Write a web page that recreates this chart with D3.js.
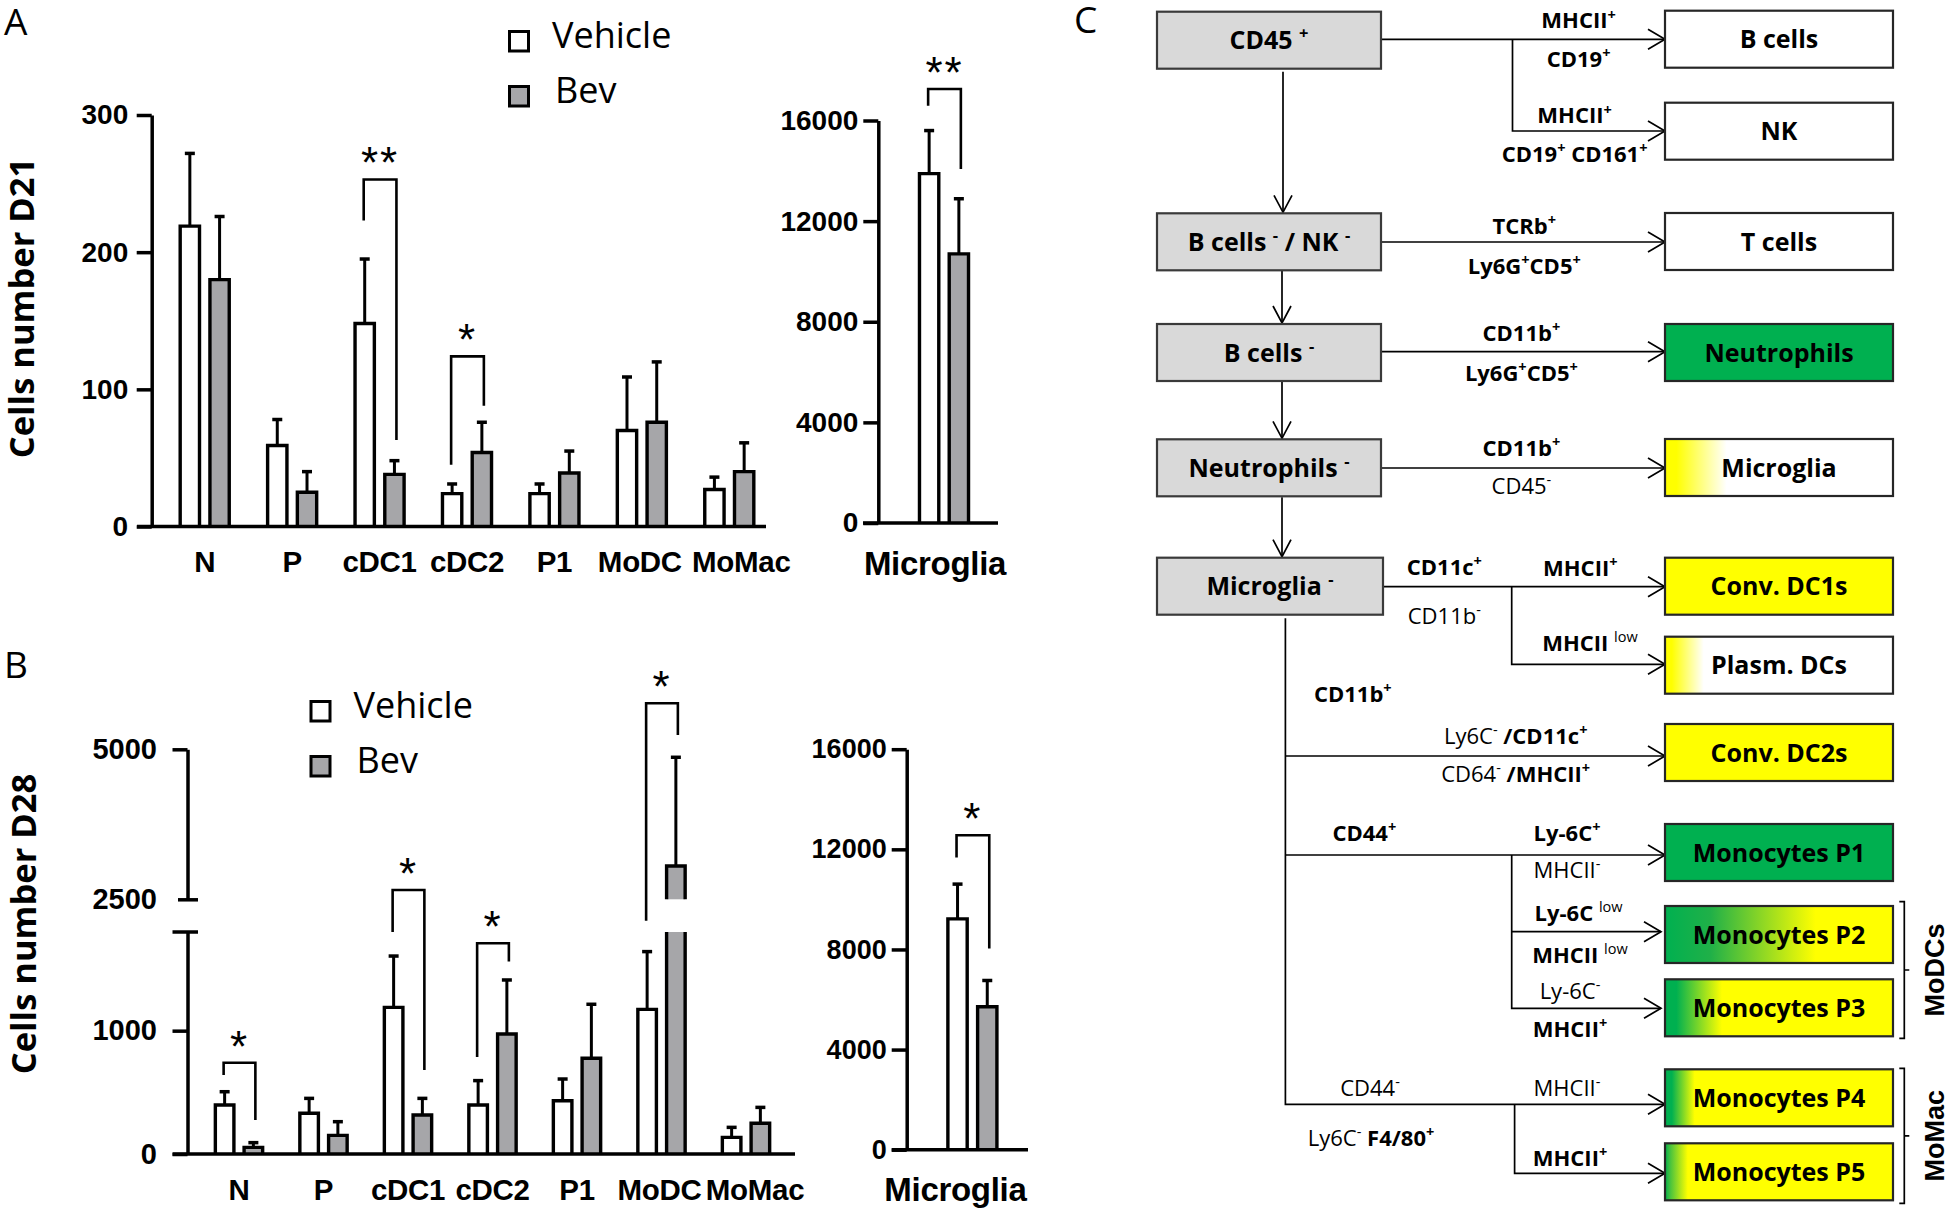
<!DOCTYPE html>
<html><head><meta charset="utf-8">
<script src="https://cdn.jsdelivr.net/npm/d3@7"></script>
<style>body{margin:0;background:#fff}svg{display:block}</style>
</head><body>
<svg id="chart" width="1946" height="1209"></svg>
<script>
// ================= DATA =================
const categories = ["N","P","cDC1","cDC2","P1","MoDC","MoMac"];
const treatments = ["Vehicle","Bev"];
const microgliaCategory = ["Microglia"];

const d21VehicleMean = [219, 59, 148, 24, 24, 70, 27];
const d21VehicleSem  = [53, 19, 47, 7, 7, 39, 9];
const d21BevMean     = [180, 25, 38, 54, 39, 76, 40];
const d21BevSem      = [46, 15, 10, 22, 16, 44, 21];
const d21MicrogliaVehicle = [13890], d21MicrogliaVehicleSem = [1710];
const d21MicrogliaBev     = [10700], d21MicrogliaBevSem     = [2190];

const d28VehicleMean = [397, 330, 1189, 397, 432, 1173, 135];
const d28VehicleSem  = [108, 121, 416, 198, 176, 468, 81];
const d28BevMean     = [54, 151, 316, 973, 776, 3055, 249];
const d28BevSem      = [38, 111, 135, 438, 438, 1812, 129];
const d28MicrogliaVehicle = [9220], d28MicrogliaVehicleSem = [1390];
const d28MicrogliaBev     = [5710], d28MicrogliaBevSem     = [1050];

const d21Ticks = [0, 100, 200, 300];
const microgliaTicks = [0, 4000, 8000, 12000, 16000];
const d28LowTicks = [0, 1000];
const d28HighTicks = [2500, 5000];
const d28Break = [1800, 2500];

// significance: [category, bracket top, vehicle leg end, bev leg end, label]
const d21Sig = [["cDC1", 253, 223, 63, "**"], ["cDC2", 124, 45, 88, "*"]];
const d21MicrogliaSig = [["Microglia", 17250, 16590, 14070, "**"]];
const d28Sig = [["N", 740, 640, 276, "*"], ["cDC1", 2655, 1800, 681, "*"],
                ["cDC2", 1709, 787, 1561, "*"], ["MoDC", 5767, 2042, 5238, "*"]];
const d28MicrogliaSig = [["Microglia", 12560, 11670, 8036, "*"]];

// flow chart texts
const gateLabels = ["**CD45 {+}**", "**B cells {-} / NK {-}**", "**B cells {-}**", "**Neutrophils {-}**", "**Microglia {-}**"];
const populationLabels = ["B cells","NK","T cells","Neutrophils","Microglia","Conv. DC1s","Plasm. DCs","Conv. DC2s",
  "Monocytes P1","Monocytes P2","Monocytes P3","Monocytes P4","Monocytes P5"];
const markerLabels = ["**MHCII{+}**","**CD19{+}**","**MHCII{+}**","**CD19{+} CD161{+}**","**TCRb{+}**","**Ly6G{+}CD5{+}**",
  "**CD11b{+}**","**Ly6G{+}CD5{+}**","**CD11b{+}**","CD45{-}","**CD11c{+}**","CD11b{-}","**MHCII{+}**","**MHCII** {low}",
  "**CD11b{+}**","Ly6C{-} **/CD11c{+}**","CD64{-} **/MHCII{+}**","**CD44{+}**","**Ly-6C{+}**","MHCII{-}",
  "**Ly-6C** {low}","**MHCII** {low}","Ly-6C{-}","**MHCII{+}**","CD44{-}","MHCII{-}","Ly6C{-} **F4/80{+}**","**MHCII{+}**"];
const groupLabels = ["MoDCs","MoMac"];

// ================= LAYOUT =================
const svg = d3.select("#chart");
const FA = "'Liberation Sans', Arial, sans-serif";
const FT = "'Open Sans', sans-serif";
const SW = 3.4;
const VEH_FILL = "#ffffff", BEV_FILL = "#a6a6a9";

function panelLetter(t, x, y) {
  svg.append("text").attr("x", x).attr("y", y).attr("font-family", FT).attr("font-size", 37)
    .attr("fill", "#000").text(t);
}

function drawBars(g, cfg) {
  const xs = d3.scaleBand().domain(treatments).range([0, cfg.x.bandwidth()]).paddingInner(0.236);
  const rows = [];
  cfg.cats.forEach((c, i) => {
    rows.push({cat: c, t: "Vehicle", m: cfg.vMean[i], s: cfg.vSem[i]});
    rows.push({cat: c, t: "Bev", m: cfg.bMean[i], s: cfg.bSem[i]});
  });
  const y = cfg.y;
  rows.forEach(d => {
    const xl = cfg.x(d.cat) + xs(d.t) + SW / 2;
    const xr = cfg.x(d.cat) + xs(d.t) + xs.bandwidth() - SW / 2;
    const fill = d.t === "Vehicle" ? VEH_FILL : BEV_FILL;
    let pieces;
    if (cfg.brk && d.m > cfg.brk[1]) {
      pieces = [{bot: 0, top: cfg.brk[0], openTop: true}, {bot: cfg.brk[1], top: d.m}];
    } else pieces = [{bot: 0, top: d.m}];
    pieces.forEach(p => {
      g.append("rect").attr("x", xl).attr("y", y(p.top)).attr("width", xr - xl)
        .attr("height", y(p.bot) - y(p.top)).attr("fill", fill);
      const path = p.openTop
        ? `M${xl},${y(p.bot)}V${y(p.top)}M${xr},${y(p.top)}V${y(p.bot)}`
        : `M${xl},${y(p.bot)}V${y(p.top)}H${xr}V${y(p.bot)}`;
      g.append("path").attr("d", path).attr("fill", "none").attr("stroke", "#000")
        .attr("stroke-width", SW);
    });
    const cx = (xl + xr) / 2;
    g.append("line").attr("x1", cx).attr("x2", cx).attr("y1", y(d.m)).attr("y2", y(d.m + d.s))
      .attr("stroke", "#000").attr("stroke-width", 3);
    g.append("line").attr("x1", cx - 5).attr("x2", cx + 5).attr("y1", y(d.m + d.s)).attr("y2", y(d.m + d.s))
      .attr("stroke", "#000").attr("stroke-width", 3.5);
  });
  (cfg.sig || []).forEach(s => {
    const xv = cfg.x(s[0]) + xs("Vehicle") + xs.bandwidth() / 2 - 1;
    const xb = cfg.x(s[0]) + xs("Bev") + xs.bandwidth() / 2 + 2;
    g.append("path").attr("d", `M${xv},${y(s[2])}V${y(s[1])}H${xb}V${y(s[3])}`)
      .attr("fill", "none").attr("stroke", "#000").attr("stroke-width", 2.6);
    g.append("text").attr("x", (xv + xb) / 2).attr("y", y(s[1]) - 1).attr("text-anchor", "middle")
      .attr("font-family", FA).attr("font-size", 44).attr("letter-spacing", 2).attr("fill", "#000").text(s[4]);
  });
}

function styleAxis(ax, fs) {
  ax.attr("font-family", FA).attr("font-size", fs).attr("font-weight", 700);
  ax.selectAll(".domain").attr("stroke", "#000").attr("stroke-width", 3.5);
  ax.selectAll(".tick line").attr("stroke", "#000").attr("stroke-width", 3.5);
  ax.selectAll(".tick text").attr("fill", "#000");
}

function catAxis(g, x, yPos, pad, fs, dx, shifts) {
  const ax = g.append("g").attr("transform", `translate(${dx || 0},${yPos})`)
    .call(d3.axisBottom(x).tickSize(0).tickPadding(pad));
  ax.select(".domain").remove();
  ax.attr("font-family", FA).attr("font-size", fs).attr("font-weight", 700);
  ax.selectAll("text").attr("fill", "#000").attr("letter-spacing", -0.3);
  if (shifts) ax.selectAll(".tick text").attr("dx", d => shifts[d] || 0);
}

function yTitle(t, x, y) {
  svg.append("text").attr("transform", `translate(${x},${y}) rotate(-90)`).attr("text-anchor", "middle")
    .attr("font-family", FT).attr("font-weight", 700).attr("font-size", 34.5).attr("fill", "#000").text(t);
}

function legend(x, y) {
  const items = [[VEH_FILL, "Vehicle", 0], [BEV_FILL, "Bev", 55]];
  items.forEach(([f, t, dy]) => {
    svg.append("rect").attr("x", x + 1.5).attr("y", y + dy + 1.5).attr("width", 19).attr("height", 19.5)
      .attr("fill", f).attr("stroke", "#000").attr("stroke-width", 3);
    svg.append("text").attr("x", x + 44 + (t === "Bev" ? 3 : 0)).attr("y", y + dy + 17.5)
      .attr("font-family", FT).attr("font-size", 36).attr("fill", "#000").text(t);
  });
}

const fmt = d3.format("d");

// ---------- Panel A ----------
panelLetter("A", 4, 35);
{
  const g = svg.append("g");
  const y = d3.scaleLinear().domain([0, 300]).range([526.5, 115]);
  const x = d3.scaleBand().domain(categories).range([161, 773]).paddingInner(0.4).paddingOuter(0.2);
  drawBars(g, {cats: categories, vMean: d21VehicleMean, vSem: d21VehicleSem, bMean: d21BevMean, bSem: d21BevSem,
    x, y, sig: d21Sig});
  g.append("line").attr("x1", 137).attr("x2", 766).attr("y1", y(0)).attr("y2", y(0)).attr("stroke", "#000").attr("stroke-width", 3.5);
  const ax = g.append("g").attr("transform", "translate(151.7,0)")
    .call(d3.axisLeft(y).tickValues(d21Ticks).tickSize(15).tickSizeOuter(0).tickPadding(8.5).tickFormat(fmt));
  styleAxis(ax, 28);
  catAxis(g, x, y(0), 25, 29.5, 0, {MoDC: -2, MoMac: 12});

  const ym = d3.scaleLinear().domain([0, 16000]).range([523, 120.5]);
  const xm = d3.scaleBand().domain(microgliaCategory).range([944 - 43.7, 944 + 43.7]).paddingInner(0.4).paddingOuter(0.2);
  drawBars(g, {cats: microgliaCategory, vMean: d21MicrogliaVehicle, vSem: d21MicrogliaVehicleSem,
    bMean: d21MicrogliaBev, bSem: d21MicrogliaBevSem, x: xm, y: ym, sig: d21MicrogliaSig});
  g.append("line").attr("x1", 863).attr("x2", 998).attr("y1", ym(0)).attr("y2", ym(0)).attr("stroke", "#000").attr("stroke-width", 3.5);
  const axm = g.append("g").attr("transform", "translate(878.3,0)")
    .call(d3.axisLeft(ym).tickValues(microgliaTicks).tickSize(15).tickSizeOuter(0).tickPadding(5).tickFormat(fmt));
  styleAxis(axm, 28);
  catAxis(g, xm, ym(0), 28.5, 33, -9);
  yTitle("Cells number D21", 33.5, 308);
  legend(508, 30);
}

// ---------- Panel B ----------
panelLetter("B", 4, 678);
{
  const g = svg.append("g");
  const y = d3.scaleLinear().domain([0, d28Break[0], d28Break[1], 5000]).range([1154, 932, 899.3, 749.3]);
  const yLow = d3.scaleLinear().domain([0, d28Break[0]]).range([1154, 932]);
  const yHigh = d3.scaleLinear().domain([d28Break[1], 5000]).range([899.3, 749.3]);
  const x = d3.scaleBand().domain(categories).range([196.75, 788.25]).paddingInner(0.4).paddingOuter(0.2);
  drawBars(g, {cats: categories, vMean: d28VehicleMean, vSem: d28VehicleSem, bMean: d28BevMean, bSem: d28BevSem,
    x, y, brk: d28Break, sig: d28Sig});
  g.append("line").attr("x1", 172.6).attr("x2", 795).attr("y1", y(0)).attr("y2", y(0)).attr("stroke", "#000").attr("stroke-width", 3.5);
  const axL = g.append("g").attr("transform", "translate(187.5,0)")
    .call(d3.axisLeft(yLow).tickValues(d28LowTicks).tickSize(15).tickSizeOuter(0).tickPadding(15.5).tickFormat(fmt));
  styleAxis(axL, 29);
  axL.append("line").attr("x1", -15).attr("x2", 10.5).attr("y1", yLow(d28Break[0])).attr("y2", yLow(d28Break[0]))
    .attr("stroke", "#000").attr("stroke-width", 3.5);
  const axH = g.append("g").attr("transform", "translate(187.5,0)")
    .call(d3.axisLeft(yHigh).tickValues(d28HighTicks).tickSize(15).tickSizeOuter(0).tickPadding(15.5).tickFormat(fmt));
  styleAxis(axH, 29);
  axH.selectAll(".tick").filter(d => d === d28Break[1]).select("line").attr("x1", 10.5).attr("x2", -9.5);
  catAxis(g, x, y(0), 24.7, 29.5, 0, {MoDC: -2, MoMac: 9});

  const ym = d3.scaleLinear().domain([0, 16000]).range([1149.7, 749.2]);
  const xm = d3.scaleBand().domain(microgliaCategory).range([972.4 - 43.7, 972.4 + 43.7]).paddingInner(0.4).paddingOuter(0.2);
  drawBars(g, {cats: microgliaCategory, vMean: d28MicrogliaVehicle, vSem: d28MicrogliaVehicleSem,
    bMean: d28MicrogliaBev, bSem: d28MicrogliaBevSem, x: xm, y: ym, sig: d28MicrogliaSig});
  g.append("line").attr("x1", 891.7).attr("x2", 1028).attr("y1", ym(0)).attr("y2", ym(0)).attr("stroke", "#000").attr("stroke-width", 3.5);
  const axm = g.append("g").attr("transform", "translate(906.7,0)")
    .call(d3.axisLeft(ym).tickValues(microgliaTicks).tickSize(15).tickSizeOuter(0).tickPadding(5).tickFormat(fmt));
  styleAxis(axm, 27);
  catAxis(g, xm, ym(0), 28, 33, -17);
  yTitle("Cells number D28", 35.5, 924);
  legend(309.5, 700);
}

// ---------- Panel C (gating flow chart) ----------
panelLetter("C", 1074, 33);
const defs = svg.append("defs");
const GREEN = "#00b050", YELLOW = "#ffff00";
const gradients = {
  gMicroglia: [[0, YELLOW], [0.05, YELLOW], [0.27, "#ffffff"]],
  gPlasm: [[0, YELLOW], [0.03, YELLOW], [0.17, "#ffffff"]],
  gP2: [[0, GREEN], [0.2, "#20b048"], [0.66, YELLOW]],
  gP3: [[0, GREEN], [0.05, GREEN], [0.25, YELLOW]],
  gP4: [[0, GREEN], [0.03, GREEN], [0.13, YELLOW]],
  gP5: [[0, GREEN], [0.02, "#40c040"], [0.1, YELLOW]]
};
Object.entries(gradients).forEach(([id, stops]) => {
  const lg = defs.append("linearGradient").attr("id", id).attr("x1", 0).attr("x2", 1).attr("y1", 0).attr("y2", 0);
  stops.forEach(([o, c]) => lg.append("stop").attr("offset", o).attr("stop-color", c));
});

function richText(g, x, y, markup, size, anchor) {
  const t = g.append("text").attr("x", x).attr("y", y).attr("text-anchor", anchor || "middle")
    .attr("font-family", FT).attr("font-size", size).attr("fill", "#000").style("white-space", "pre");
  const segs = []; let bold = false, sup = false, buf = "";
  const push = () => { if (buf) segs.push({t: buf, bold, sup}); buf = ""; };
  for (let i = 0; i < markup.length; i++) {
    const c = markup[i];
    if (c === "*" && markup[i + 1] === "*") { push(); bold = !bold; i++; continue; }
    if (c === "{") { push(); sup = true; continue; }
    if (c === "}") { push(); sup = false; continue; }
    buf += c;
  }
  push();
  let shifted = 0; const supShift = -size * 0.4;
  segs.forEach(s => {
    const ts = t.append("tspan").text(s.t).attr("font-weight", s.bold ? 700 : 400);
    const target = s.sup ? supShift : 0;
    if (target !== shifted) { ts.attr("dy", target - shifted); shifted = target; }
    if (s.sup) ts.attr("font-size", size * 0.66);
  });
  return t;
}

const fc = svg.append("g");
const gateLayout = [[1157, 11.7, 224], [1157, 213.3, 224], [1157, 324, 224], [1157, 439.3, 224], [1157, 557.7, 226]];
const popLayout = [
  [10.7, "#fff"], [102.7, "#fff"], [213, "#fff"], [324, GREEN], [439, "url(#gMicroglia)"], [557.7, YELLOW],
  [636.7, "url(#gPlasm)"], [724, YELLOW], [824, GREEN], [906, "url(#gP2)"], [979.3, "url(#gP3)"],
  [1069.3, "url(#gP4)"], [1143.3, "url(#gP5)"]];
const BOX_H = 57;

const flowLines = [
  [[[1381, 39.3], [1665, 39.3]], "r"],
  [[[1512.5, 39.3], [1512.5, 131], [1665, 131]], "r"],
  [[[1283, 71.7], [1283, 212.3]], "d"],
  [[[1381, 242], [1665, 242]], "r"],
  [[[1282, 270.7], [1282, 323]], "d"],
  [[[1381, 351.7], [1665, 351.7]], "r"],
  [[[1282, 381.7], [1282, 438.3]], "d"],
  [[[1381, 468], [1665, 468]], "r"],
  [[[1282, 497.3], [1282, 556.7]], "d"],
  [[[1383, 586.7], [1665, 586.7]], "r"],
  [[[1511.7, 586.7], [1511.7, 664.3], [1665, 664.3]], "r"],
  [[[1285.4, 618.3], [1285.4, 1104.3], [1665, 1104.3]], "r"],
  [[[1285.4, 756], [1665, 756]], "r"],
  [[[1285.4, 855], [1665, 855]], "r"],
  [[[1511.7, 855], [1511.7, 1008.3], [1661, 1008.3]], "r"],
  [[[1511.7, 931.7], [1661, 931.7]], "r"],
  [[[1514.6, 1104.3], [1514.6, 1173.3], [1665, 1173.3]], "r"]
];
const lineGen = d3.line();
flowLines.forEach(([pts, dir]) => {
  fc.append("path").attr("d", lineGen(pts)).attr("fill", "none").attr("stroke", "#000").attr("stroke-width", 1.7);
  const [tx, ty] = pts[pts.length - 1];
  const ah = dir === "r" ? `M${tx - 17},${ty - 10}L${tx},${ty}L${tx - 17},${ty + 10}`
                         : `M${tx - 9},${ty - 17}L${tx},${ty}L${tx + 9},${ty - 17}`;
  fc.append("path").attr("d", ah).attr("fill", "none").attr("stroke", "#000").attr("stroke-width", 1.7);
});

gateLabels.forEach((lab, i) => {
  const [bx, by, bw] = gateLayout[i];
  fc.append("rect").attr("x", bx).attr("y", by).attr("width", bw).attr("height", BOX_H)
    .attr("fill", "#d9d9d9").attr("stroke", "#3a3a3a").attr("stroke-width", 2.2);
  richText(fc, bx + bw / 2, by + BOX_H / 2 + 9, lab, 25);
});
populationLabels.forEach((lab, i) => {
  const [by, fill] = popLayout[i];
  fc.append("rect").attr("x", 1665).attr("y", by).attr("width", 228).attr("height", BOX_H)
    .attr("fill", fill).attr("stroke", "#262626").attr("stroke-width", 2.2);
  richText(fc, 1779, by + BOX_H / 2 + 9, "**" + lab + "**", 25);
});

const markerLayout = [
  [1578.6, 28.3], [1578.6, 66.7], [1574.6, 123.3], [1574.6, 161.7], [1524.3, 234.2], [1524.3, 274],
  [1521.4, 340.8], [1521.4, 381], [1521.4, 455.8], [1521.4, 494.2], [1444.3, 574.8], [1444.3, 623.5],
  [1580.3, 575.8], [1590, 650.8], [1352.8, 701.5], [1515.7, 743.5], [1515.7, 781.5], [1364.3, 840.8],
  [1567, 840.8], [1567, 878.2], [1578.6, 920.8], [1580, 962.5], [1570, 999.2], [1570, 1036.8],
  [1370, 1095.8], [1567, 1095.8], [1371, 1145.8], [1570, 1165.8]];
markerLabels.forEach((m, i) => richText(fc, markerLayout[i][0], markerLayout[i][1], m, 22));

const groupLayout = [[901.7, 1038.3], [1068.3, 1203.3]];
groupLabels.forEach((lab, i) => {
  const [y1, y2] = groupLayout[i];
  const xm = 1904.3, ym = (y1 + y2) / 2;
  fc.append("path").attr("d", `M${xm - 5},${y1}H${xm}V${y2}H${xm - 5}M${xm},${ym}H${xm + 5}`)
    .attr("fill", "none").attr("stroke", "#000").attr("stroke-width", 1.7);
  fc.append("text").attr("transform", `translate(1944,${ym}) rotate(-90)`).attr("text-anchor", "middle")
    .attr("font-family", FA).attr("font-weight", 700).attr("font-size", 27).attr("fill", "#000").text(lab);
});
</script>
</body></html>
